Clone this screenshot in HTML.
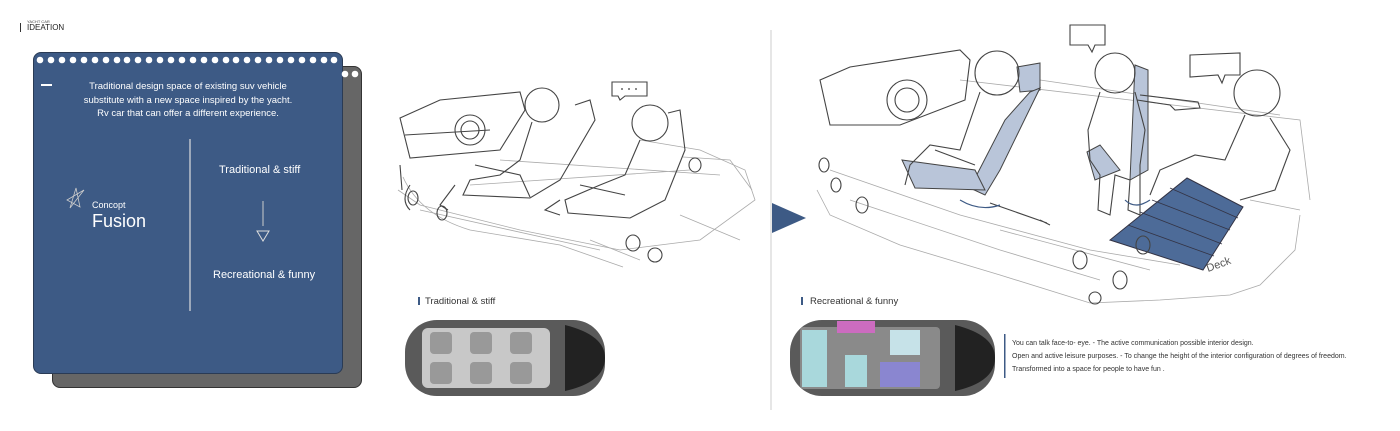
<!DOCTYPE html>
<html><head><meta charset="utf-8"><style>
body{margin:0;width:1400px;height:431px;background:#fff;position:relative;overflow:hidden;font-family:"Liberation Sans",sans-serif}
.a{position:absolute}
.w{color:#fff}
</style></head><body>
<div class="a" style="left:27px;top:19px;font-size:4px;color:#444">YACHT CAR</div>
<div class="a" style="left:20px;top:23px;width:1px;height:9px;background:#333"></div>
<div class="a" style="left:27px;top:23px;font-size:8px;color:#222">IDEATION</div>

<div class="a" style="left:52px;top:66px;width:308px;height:320px;background:#666;border-radius:8px;border:1px solid #333"></div>
<div class="a" style="left:33px;top:52px;width:308px;height:320px;background:#3d5a85;border-radius:8px;border:1px solid #2a3b55"></div>
<svg class="a" style="left:0;top:0" width="1400" height="431">
<g fill="#fff">
<circle cx="40" cy="60" r="3.3"/><circle cx="51" cy="60" r="3.3"/><circle cx="62" cy="60" r="3.3"/><circle cx="73" cy="60" r="3.3"/><circle cx="84" cy="60" r="3.3"/><circle cx="95" cy="60" r="3.3"/><circle cx="106" cy="60" r="3.3"/><circle cx="117" cy="60" r="3.3"/><circle cx="127" cy="60" r="3.3"/><circle cx="138" cy="60" r="3.3"/><circle cx="149" cy="60" r="3.3"/><circle cx="160" cy="60" r="3.3"/><circle cx="171" cy="60" r="3.3"/><circle cx="182" cy="60" r="3.3"/><circle cx="193" cy="60" r="3.3"/><circle cx="204" cy="60" r="3.3"/><circle cx="215" cy="60" r="3.3"/><circle cx="226" cy="60" r="3.3"/><circle cx="236" cy="60" r="3.3"/><circle cx="247" cy="60" r="3.3"/><circle cx="258" cy="60" r="3.3"/><circle cx="269" cy="60" r="3.3"/><circle cx="280" cy="60" r="3.3"/><circle cx="291" cy="60" r="3.3"/><circle cx="302" cy="60" r="3.3"/><circle cx="313" cy="60" r="3.3"/><circle cx="324" cy="60" r="3.3"/><circle cx="334" cy="60" r="3.3"/>
<circle cx="345" cy="74" r="3.3"/><circle cx="355" cy="74" r="3.3"/>
</g>
<rect x="41" y="84" width="11" height="2" fill="#fff"/>
<line x1="190" y1="139" x2="190" y2="311" stroke="#ddd" stroke-width="1.2"/>
<line x1="263" y1="201" x2="263" y2="226" stroke="#ccc"/>
<path d="M257 231 L269 231 L263 241 Z" fill="none" stroke="#ddd"/>
<path d="M67 200 L84 190 L70 208 L76 188 L80 207 Z" fill="none" stroke="#ccc" stroke-width="0.8"/>
<line x1="771" y1="30" x2="771" y2="410" stroke="#ccc"/>
<path d="M772 203 L806 218 L772 233 Z" fill="#3d5a85"/>

<!-- left sketch -->
<g fill="none" stroke="#aaa" stroke-width="0.8">
<path d="M398 190 L420 205 L520 230 L620 250 L700 240 L755 200 L745 170 L700 150 L640 140"/>
<path d="M403 177 Q420 215 470 230 L560 245 L623 267"/>
<path d="M683 157 L730 160 L752 190"/>
<path d="M420 210 L600 250 M470 185 L690 170 M500 160 L720 175"/>
<path d="M590 240 L640 260 M680 215 L740 240"/>
</g>
<g fill="none" stroke="#444" stroke-width="1.1">
<path d="M400 118 L440 100 L520 92 L525 110 L500 150 L410 158 Z"/>
<path d="M405 135 L490 130"/>
<circle cx="470" cy="130" r="15"/><circle cx="470" cy="130" r="9"/>
<circle cx="542" cy="105" r="17"/>
<path d="M532 122 L520 160 L500 175 L470 180 L463 195 L530 198 L560 180 L595 120 L590 100 L575 105"/>
<path d="M475 165 L520 175 L530 197 M455 185 L440 205 L448 210"/>
<circle cx="650" cy="123" r="18"/>
<path d="M640 140 L625 175 L600 185 L565 200 L568 213 L630 218 L665 200 L685 150 L680 110 L668 113"/>
<path d="M580 185 L625 195 M560 200 L545 210 L560 215"/>
<path d="M612 82 L647 82 L647 96 L625 96 L620 100 L618 96 L612 96 Z"/>
<path d="M400 165 L402 190 M410 185 Q400 200 410 210"/>
<ellipse cx="413" cy="198" rx="5" ry="7"/><ellipse cx="442" cy="213" rx="5" ry="7"/>
<ellipse cx="633" cy="243" rx="7" ry="8"/><ellipse cx="655" cy="255" rx="7" ry="7"/>
<ellipse cx="695" cy="165" rx="6" ry="7"/>
</g>
<g fill="#666"><circle cx="622" cy="89" r="1"/><circle cx="629" cy="89" r="1"/><circle cx="636" cy="89" r="1"/></g>

<!-- right sketch -->
<g fill="none" stroke="#aaa" stroke-width="0.8">
<path d="M817 190 L830 215 L900 245 L1000 275 L1090 303 L1160 300 L1230 295 L1260 285 L1295 250 L1300 215"/>
<path d="M830 170 L960 215 L1090 250 L1180 265 M960 80 L1300 120 L1310 200"/>
<path d="M1040 80 L1280 115 M1000 230 L1150 270 M1250 200 L1300 210"/>
<path d="M850 200 L1000 250 L1100 280"/>
</g>
<path d="M1017 67 L1040 63 L1040 90 L1020 92 Z" fill="#b9c5d9" stroke="#444"/>
<path d="M1040 88 L1000 170 L985 195 L970 188 L1005 120 L1030 92 Z" fill="#b9c5d9" stroke="#444"/>
<path d="M902 160 L975 170 L985 190 L915 188 Z" fill="#b9c5d9" stroke="#444"/>
<path d="M1135 65 L1148 70 L1148 170 L1130 180 Z" fill="#b9c5d9" stroke="#444"/>
<path d="M1087 152 L1100 145 L1120 170 L1095 180 Z" fill="#b9c5d9" stroke="#444"/>
<path d="M1187 178 L1243 207 L1203 270 L1110 240 Z" fill="#4d6b98" stroke="#334"/>
<g stroke="#334" stroke-width="0.8"><path d="M1170 188 L1238 218 M1152 200 L1230 230 M1140 212 L1222 244 M1128 225 L1214 256"/></g>
<g fill="none" stroke="#444" stroke-width="1.1">
<path d="M820 80 L850 67 L960 50 L970 60 L965 100 L900 125 L830 125 Z"/>
<circle cx="907" cy="100" r="20"/><circle cx="907" cy="100" r="12"/>
<circle cx="997" cy="73" r="22"/>
<path d="M980 92 L960 150 L930 145 L910 165 L905 185 M935 150 L975 165"/>
<circle cx="1115" cy="73" r="20"/>
<path d="M1100 92 L1088 130 L1090 160 L1100 175 L1098 210 L1110 215 L1115 175 L1130 180 L1128 210 L1140 215 L1140 165 L1145 130 L1135 92"/>
<path d="M1137 100 L1170 105 L1175 110 L1200 108 L1198 102 L1140 95"/>
<path d="M1070 25 L1105 25 L1105 45 L1095 45 L1092 52 L1088 45 L1070 45 Z"/>
<path d="M1190 55 L1240 53 L1240 75 L1225 75 L1222 83 L1218 75 L1190 77 Z"/>
<circle cx="1257" cy="93" r="23"/>
<path d="M1245 115 L1225 160 L1195 155 L1160 170 L1150 195 M1270 118 L1290 150 L1275 190 L1240 200"/>
<path d="M1040 220 L1050 225 M990 203 L1047 223"/>
<ellipse cx="824" cy="165" rx="5" ry="7"/><ellipse cx="836" cy="185" rx="5" ry="7"/><ellipse cx="862" cy="205" rx="6" ry="8"/>
<ellipse cx="1080" cy="260" rx="7" ry="9"/><ellipse cx="1120" cy="280" rx="7" ry="9"/><ellipse cx="1095" cy="298" rx="6" ry="6"/>
<ellipse cx="1143" cy="245" rx="7" ry="9"/>
</g>
<path d="M960 200 Q980 212 1000 205 M1125 200 Q1135 210 1150 200" fill="none" stroke="#3d5a85" stroke-width="1.2"/>
<text x="1208" y="272" font-family="Liberation Sans" font-size="11" fill="#555" transform="rotate(-20 1208 272)">Deck</text>

<!-- cars -->
<g>
<rect x="405" y="320" width="200" height="76" rx="32" fill="#5a5a5a"/>
<rect x="422" y="328" width="128" height="60" rx="6" fill="#c8c8c8"/>
<g fill="#999"><rect x="430" y="332" width="22" height="22" rx="4"/><rect x="430" y="362" width="22" height="22" rx="4"/><rect x="470" y="332" width="22" height="22" rx="4"/><rect x="470" y="362" width="22" height="22" rx="4"/><rect x="510" y="332" width="22" height="22" rx="4"/><rect x="510" y="362" width="22" height="22" rx="4"/></g>
<path d="M565 325 Q605 335 605 358 Q605 382 565 391 Z" fill="#222"/>
<rect x="790" y="320" width="205" height="76" rx="32" fill="#5a5a5a"/>
<rect x="800" y="327" width="140" height="62" rx="4" fill="#8a8a8a"/>
<rect x="802" y="330" width="25" height="57" fill="#a9d8dc"/>
<rect x="837" y="321" width="38" height="12" fill="#cc6cc0"/>
<rect x="845" y="355" width="22" height="32" fill="#a9d8dc"/>
<rect x="880" y="362" width="40" height="25" fill="#8a86d0"/>
<rect x="890" y="330" width="30" height="25" fill="#c6e2e8"/>
<path d="M955 325 Q995 335 995 358 Q995 382 955 391 Z" fill="#222"/>
</g>
<rect x="418" y="297" width="2" height="8" fill="#3d5a85"/>
<rect x="801" y="297" width="2" height="8" fill="#3d5a85"/>
<rect x="1004" y="334" width="1.5" height="44" fill="#3d5a85"/>
</svg>
<div class="a w" style="left:33px;top:80px;width:310px;text-align:center;font-size:9.5px;line-height:13.5px">Traditional design space of existing suv vehicle<br>substitute with a new space inspired by the yacht.<br>Rv car that can offer a different experience.</div>
<div class="a w" style="left:92px;top:200px;font-size:9px">Concopt</div>
<div class="a w" style="left:92px;top:211px;font-size:18px">Fusion</div>
<div class="a w" style="left:219px;top:164px;font-size:11px">Traditional &amp; stiff</div>
<div class="a w" style="left:213px;top:269px;font-size:11px">Recreational &amp; funny</div>
<div class="a" style="left:425px;top:296px;font-size:9.5px;color:#333">Traditional &amp; stiff</div>
<div class="a" style="left:810px;top:296px;font-size:9.5px;color:#333">Recreational &amp; funny</div>
<div class="a" style="left:1012px;top:337px;font-size:7px;line-height:13px;color:#333">You can talk face-to- eye. - The active communication possible interior design.<br>Open and active leisure purposes. - To change the height of the interior configuration of degrees of freedom.<br>Transformed into a space for people to have fun .</div>
</body></html>
